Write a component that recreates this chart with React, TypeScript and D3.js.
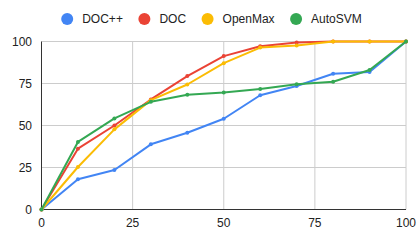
import * as d3 from "d3";
import { useEffect, useRef } from "react";

const xValues = [0, 10, 20, 30, 40, 50, 60, 70, 80, 90, 100];
const seriesNames = ["DOC++", "DOC", "OpenMax", "AutoSVM"];
const seriesColors = ["#4285f4", "#ea4335", "#fbbc04", "#34a853"];

const docPP = [0, 18, 23.5, 38.8, 45.7, 54, 68, 73.5, 80.8, 81.8, 100];
const doc = [0, 36.2, 50, 65.5, 79.4, 91.3, 97.2, 99.4, 100, 100, 100];
const openMax = [0, 25.3, 47.7, 65.1, 74.4, 87.1, 96.4, 97.6, 100, 100, 100];
const autoSvm = [0, 40.2, 54.2, 64.1, 68.3, 69.7, 71.7, 74.6, 76, 83, 100];

const xTicks = [0, 25, 50, 75, 100];
const yTicks = [0, 25, 50, 75, 100];

const W = 420;
const H = 242;
const FONT = "Arial, 'Liberation Sans', sans-serif";

const App = () => {
  const svgRef = useRef<SVGSVGElement | null>(null);

  useEffect(() => {
    document.body.style.margin = "0";
    const svg = d3.select(svgRef.current);
    svg.selectAll("*").remove();

    const x = d3.scaleLinear().domain([0, 100]).range([41.5, 406]);
    const y = d3.scaleLinear().domain([0, 100]).range([209.5, 41.5]);

    svg.append("rect").attr("width", W).attr("height", H).attr("fill", "#fff");

    // grid
    const grid = svg.append("g");
    grid
      .selectAll("line.v")
      .data(xTicks.slice(1))
      .enter()
      .append("line")
      .attr("x1", (d) => x(d))
      .attr("x2", (d) => x(d))
      .attr("y1", y(0))
      .attr("y2", y(100))
      .attr("stroke", "#cccccc")
      .attr("stroke-width", 1);
    grid
      .selectAll("line.h")
      .data(yTicks.slice(1))
      .enter()
      .append("line")
      .attr("x1", x(0))
      .attr("x2", x(100))
      .attr("y1", (d) => y(d))
      .attr("y2", (d) => y(d))
      .attr("stroke", "#cccccc")
      .attr("stroke-width", 1);

    // tick labels
    svg
      .selectAll("text.xt")
      .data(xTicks)
      .enter()
      .append("text")
      .attr("x", (d) => x(d))
      .attr("y", 227)
      .attr("text-anchor", "middle")
      .style("font-family", FONT)
      .style("font-size", "12px")
      .attr("fill", "#222")
      .text((d) => d);
    svg
      .selectAll("text.yt")
      .data(yTicks)
      .enter()
      .append("text")
      .attr("x", 32)
      .attr("y", (d) => y(d) + 4.3)
      .attr("text-anchor", "end")
      .style("font-family", FONT)
      .style("font-size", "12px")
      .attr("fill", "#222")
      .text((d) => d);

    // axis baselines
    svg
      .append("line")
      .attr("x1", x(0))
      .attr("x2", x(100))
      .attr("y1", y(0))
      .attr("y2", y(0))
      .attr("stroke", "#333");
    svg
      .append("line")
      .attr("x1", x(0))
      .attr("x2", x(0))
      .attr("y1", y(0))
      .attr("y2", y(100))
      .attr("stroke", "#333");

    const allSeries = [docPP, doc, openMax, autoSvm];
    const line = d3
      .line<number>()
      .x((_, i) => x(xValues[i]))
      .y((d) => y(d));

    allSeries.forEach((vals, s) => {
      svg
        .append("path")
        .attr("d", line(vals)!)
        .attr("fill", "none")
        .attr("stroke", seriesColors[s])
        .attr("stroke-width", 2)
        .attr("stroke-linejoin", "round");
      svg
        .selectAll(null)
        .data(vals)
        .enter()
        .append("circle")
        .attr("cx", (_, i) => x(xValues[i]))
        .attr("cy", (d) => y(d))
        .attr("r", 2)
        .attr("fill", seriesColors[s]);
    });

    // legend, centred on the chart width
    const legend = svg.append("g");
    let cursor = 0;
    seriesNames.forEach((name, i) => {
      const item = legend.append("g").attr("transform", `translate(${cursor},0)`);
      item.append("circle").attr("cx", 6).attr("cy", 19).attr("r", 6).attr("fill", seriesColors[i]);
      const t = item
        .append("text")
        .attr("x", 21)
        .attr("y", 23.3)
        .style("font-family", FONT)
        .style("font-size", "12px")
        .attr("fill", "#222")
        .text(name);
      const w = (t.node() as SVGTextElement).getComputedTextLength();
      cursor += 21 + w + 15.5;
    });
    const total = cursor - 15.5;
    legend.attr("transform", `translate(${(W - total) / 2 + 1.5},0)`);
  }, []);

  return <svg ref={svgRef} width={W} height={H} style={{ display: "block" }} />;
};

export default App;
